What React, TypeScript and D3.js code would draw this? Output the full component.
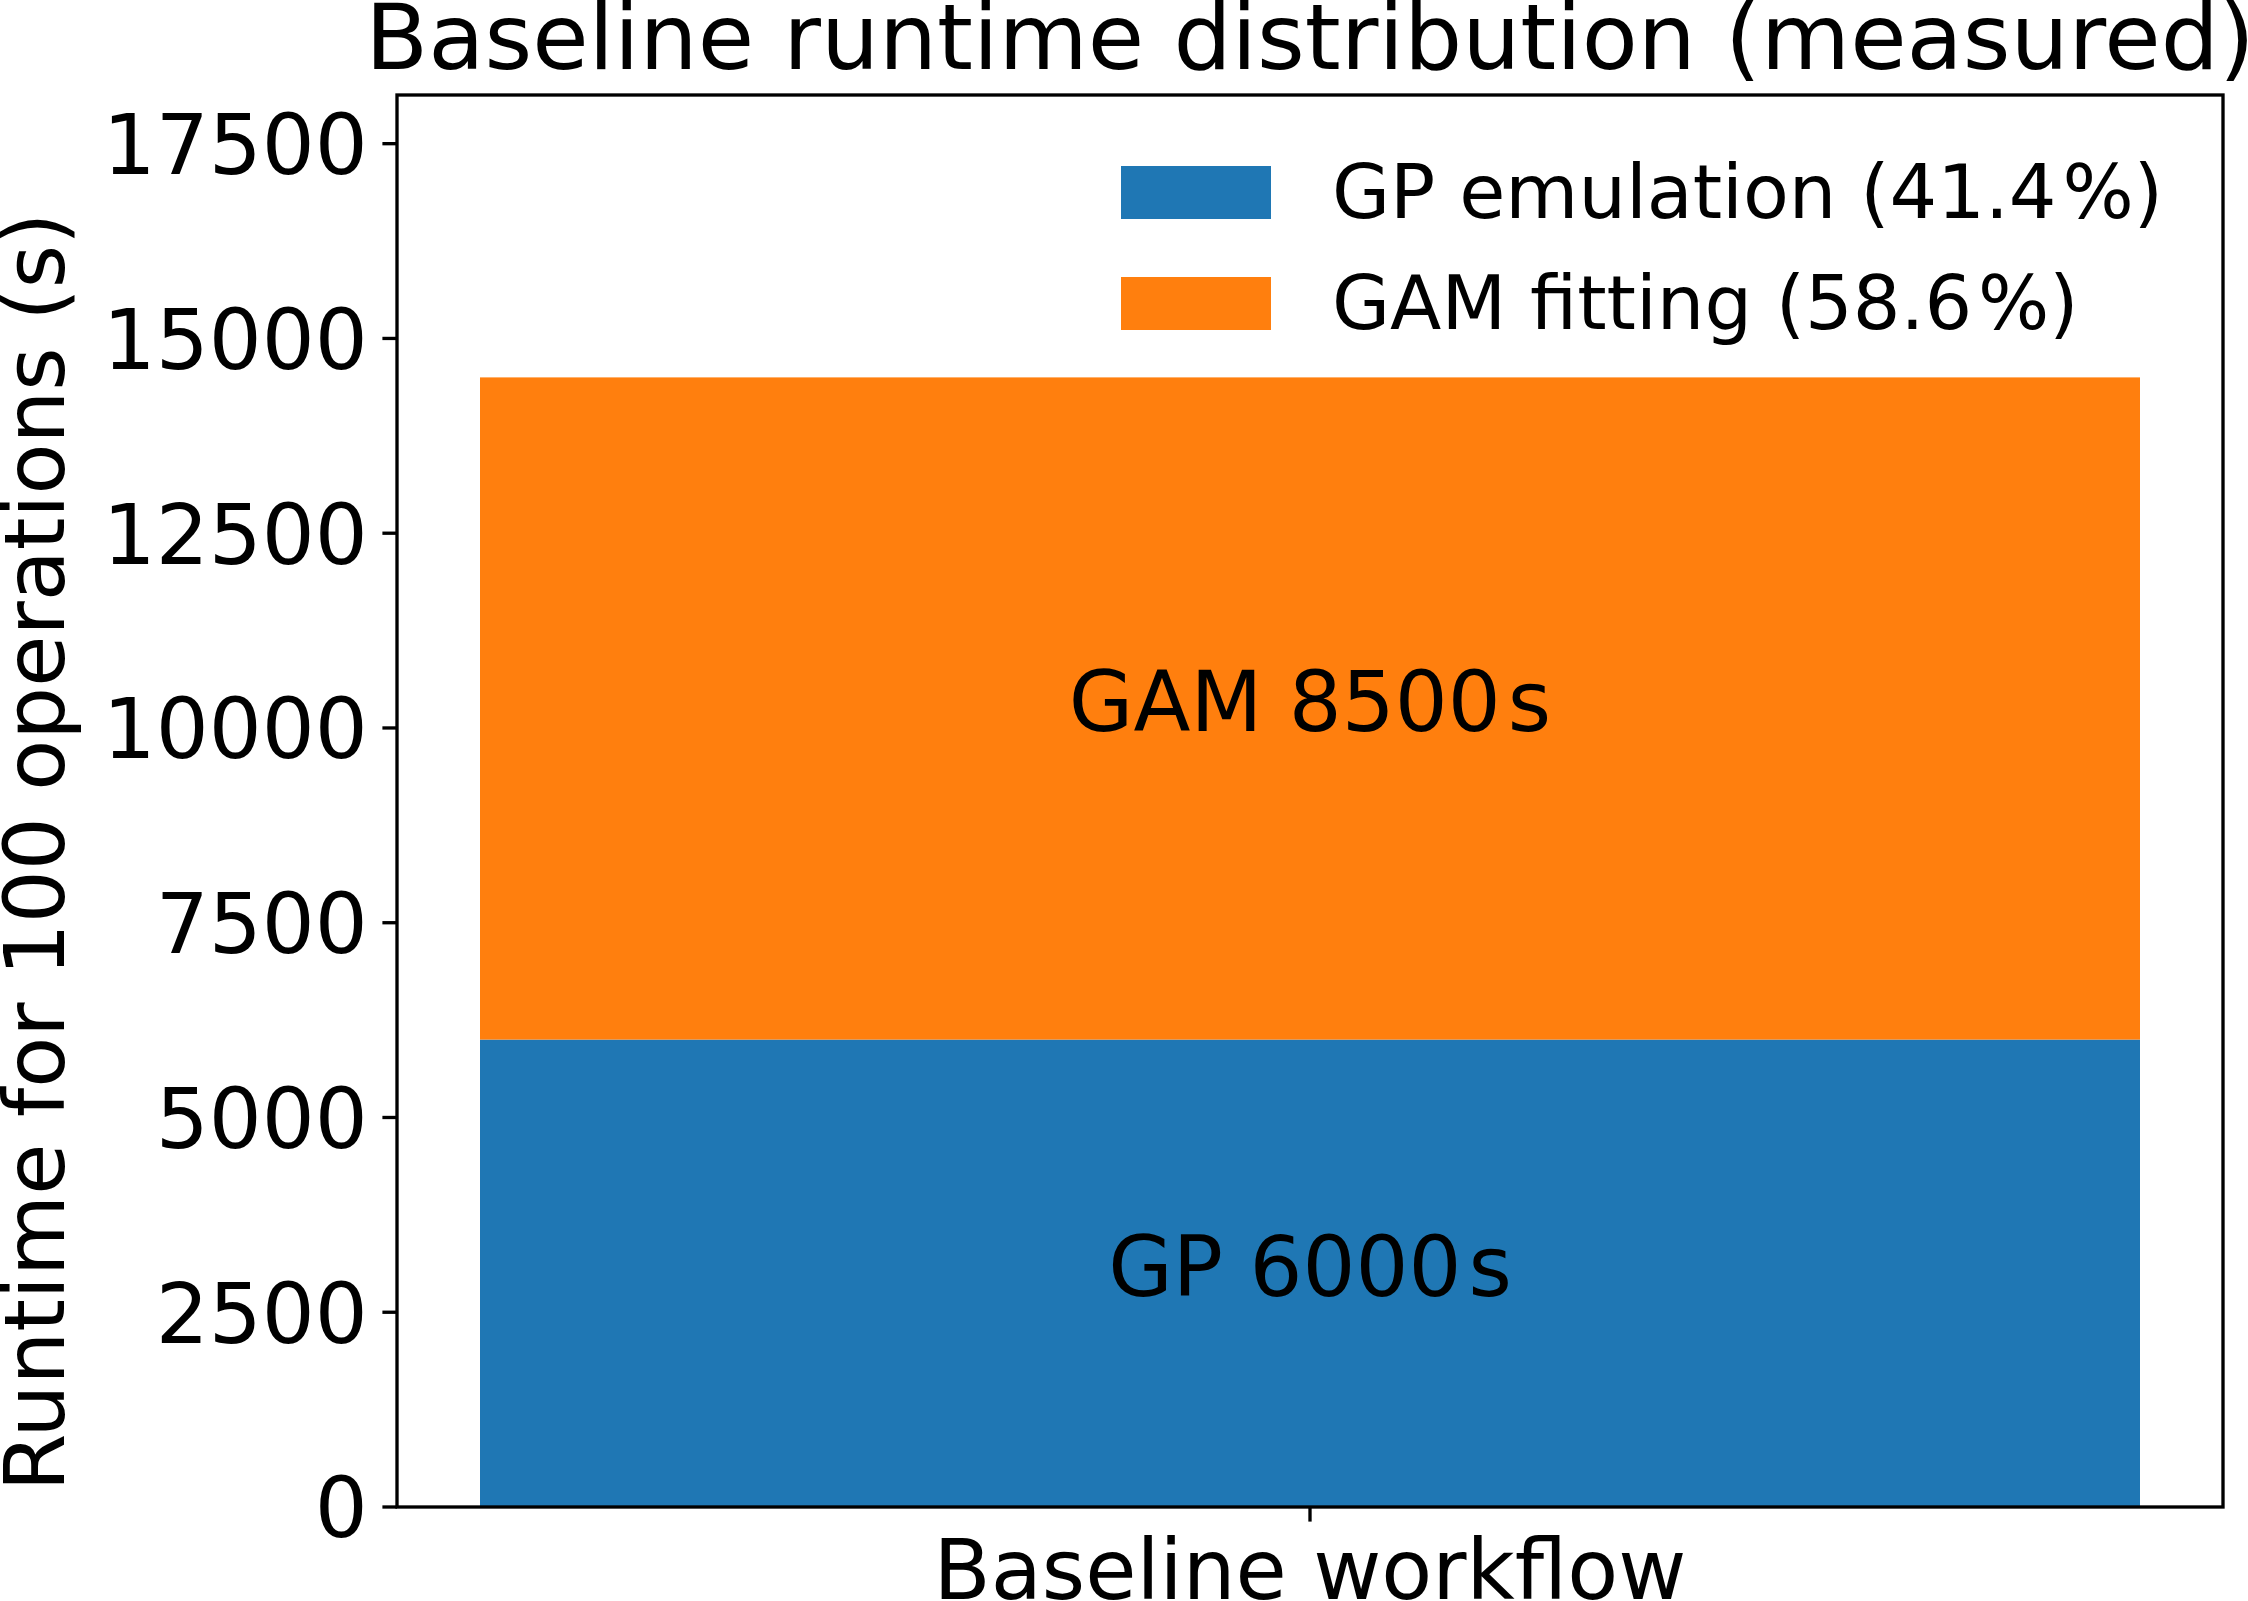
import React, { useEffect, useRef } from 'react';
import * as d3 from 'd3';

// chart data
const categories = ['Baseline workflow'];
const gpRuntime = [6000];
const gamRuntime = [8500];
const seriesNames = ['GP emulation', 'GAM fitting'];
const seriesShort = ['GP', 'GAM'];
const seriesColors = ['#1f77b4', '#ff7f0e'];
const yTicks = [0, 2500, 5000, 7500, 10000, 12500, 15000, 17500];
const yMax = 18125;

const App = () => {
  const svgRef = useRef<SVGSVGElement | null>(null);

  const width = 2248;
  const height = 1601;
  const margin = { top: 95, right: 25, bottom: 94, left: 397 };
  const innerWidth = width - margin.left - margin.right;
  const innerHeight = height - margin.top - margin.bottom;

  const tickFont = 83.3;
  const titleFont = 91.7;
  const legendFont = 75;
  const tickLen = 14.6;
  const lineW = 3.33;

  useEffect(() => {
    d3.select(svgRef.current).selectAll('*').remove();
    const svg = d3
      .select(svgRef.current)
      .attr('width', width)
      .attr('height', height)
      .style('font-family', '"DejaVu Sans", sans-serif');

    svg.append('rect').attr('width', width).attr('height', height).attr('fill', '#fff');

    const g = svg.append('g').attr('transform', `translate(${margin.left},${margin.top})`);

    // matplotlib-like x range around the single bar
    const x = d3.scaleLinear().domain([-0.44, categories.length - 1 + 0.44]).range([0, innerWidth]);
    const y = d3.scaleLinear().domain([0, yMax]).range([innerHeight, 0]);
    const barWidth = 0.8;

    const stacks = categories.map((c, i) => [
      { key: 0, y0: 0, y1: gpRuntime[i], i },
      { key: 1, y0: gpRuntime[i], y1: gpRuntime[i] + gamRuntime[i], i }
    ]).flat();

    g.selectAll('rect.bar')
      .data(stacks)
      .enter()
      .append('rect')
      .attr('class', 'bar')
      .attr('x', (d) => x(d.i - barWidth / 2))
      .attr('width', (d) => x(d.i + barWidth / 2) - x(d.i - barWidth / 2))
      .attr('y', (d) => y(d.y1))
      .attr('height', (d) => y(d.y0) - y(d.y1))
      .attr('fill', (d) => seriesColors[d.key]);

    // labels in the middle of each segment
    const seg = g.selectAll('text.seg')
      .data(stacks)
      .enter()
      .append('text')
      .attr('class', 'seg')
      .attr('x', (d) => x(d.i))
      .attr('y', (d) => y((d.y0 + d.y1) / 2) + 0.27 * tickFont)
      .attr('text-anchor', 'middle')
      .style('font-size', `${tickFont}px`)
      .style('fill', '#000');
    seg.append('tspan').text((d) => `${seriesShort[d.key]} ${d.y1 - d.y0}`);
    seg.append('tspan').attr('dx', 7).text('s');

    // frame
    g.append('rect')
      .attr('width', innerWidth)
      .attr('height', innerHeight)
      .attr('fill', 'none')
      .attr('stroke', '#000')
      .attr('stroke-width', lineW);

    // y ticks
    const yt = g.selectAll('g.ytick').data(yTicks).enter().append('g').attr('class', 'ytick');
    yt.append('line')
      .attr('x1', -tickLen)
      .attr('x2', 0)
      .attr('y1', (d) => y(d))
      .attr('y2', (d) => y(d))
      .attr('stroke', '#000')
      .attr('stroke-width', lineW);
    yt.append('text')
      .attr('x', -tickLen * 2)
      .attr('y', (d) => y(d) + 0.3645 * tickFont)
      .attr('text-anchor', 'end')
      .style('font-size', `${tickFont}px`)
      .text((d) => `${d}`);

    // x ticks
    const xt = g.selectAll('g.xtick').data(categories).enter().append('g').attr('class', 'xtick');
    xt.append('line')
      .attr('x1', (_, i) => x(i))
      .attr('x2', (_, i) => x(i))
      .attr('y1', innerHeight)
      .attr('y2', innerHeight + tickLen)
      .attr('stroke', '#000')
      .attr('stroke-width', lineW);
    xt.append('text')
      .attr('x', (_, i) => x(i))
      .attr('y', innerHeight + 92)
      .attr('text-anchor', 'middle')
      .style('font-size', `${tickFont}px`)
      .text((d) => d);

    // y label
    svg
      .append('text')
      .attr('transform', `translate(64, 852) rotate(-90)`)
      .attr('text-anchor', 'middle')
      .style('font-size', `${tickFont}px`)
      .text('Runtime for 100 operations (s)');

    // title
    svg
      .append('text')
      .attr('x', margin.left + innerWidth / 2)
      .attr('y', 69)
      .attr('text-anchor', 'middle')
      .style('font-size', `${titleFont}px`)
      .text('Baseline runtime distribution (measured)');

    // legend (no frame)
    const total = d3.sum(gpRuntime) + d3.sum(gamRuntime);
    const shares = [d3.sum(gpRuntime) / total, d3.sum(gamRuntime) / total];
    const legend = svg.append('g').attr('transform', 'translate(1121, 166)');
    const rowH = 111;
    seriesNames.forEach((name, k) => {
      legend
        .append('rect')
        .attr('x', 0)
        .attr('y', k * rowH)
        .attr('width', 150)
        .attr('height', 53)
        .attr('fill', seriesColors[k]);
      const t = legend
        .append('text')
        .attr('x', 211)
        .attr('y', k * rowH + 52)
        .style('font-size', `${legendFont}px`);
      t.append('tspan').text(`${name} (${(shares[k] * 100).toFixed(1)}`);
      t.append('tspan').attr('dx', 6).text('%)');
    });
  }, []);

  return (
    <svg
      ref={svgRef}
      style={{ position: 'absolute', left: 0, top: 0, display: 'block' }}
    ></svg>
  );
};

export default App;
